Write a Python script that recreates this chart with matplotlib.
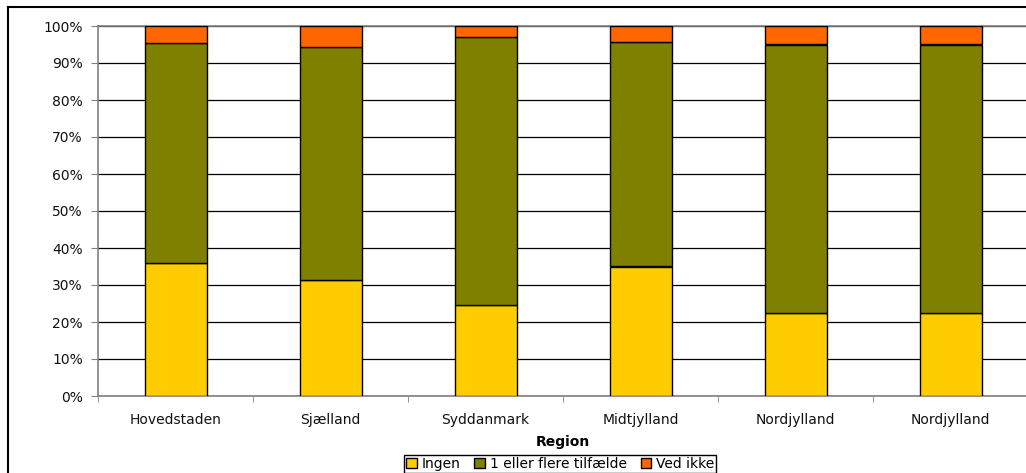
import numpy as np
import matplotlib
matplotlib.use("Agg")
import matplotlib.pyplot as plt
from matplotlib.lines import Line2D

regioner = ["Hovedstaden", "Sjælland", "Syddanmark", "Midtjylland", "Nordjylland", "Nordjylland"]
ingen = [36.0, 31.4, 24.6, 35.0, 22.4, 22.4]
flere = [59.4, 62.9, 72.4, 60.8, 72.6, 72.6]
ved_ikke = [4.6, 5.7, 3.0, 4.2, 5.0, 5.0]
serier = ["Ingen", "1 eller flere tilfælde", "Ved ikke"]
farver = ["#FFCC00", "#808000", "#FF6600"]

plt.rcParams["font.family"] = ["DejaVu Sans"]

fig = plt.figure(figsize=(10.26, 4.73), dpi=100)
ax = fig.add_axes([98 / 1026, 77 / 473, 930 / 1026, 370 / 473])

x = np.arange(len(regioner))
bund = np.zeros(len(regioner))
for navn, vaerdier, farve in zip(serier, [ingen, flere, ved_ikke], farver):
    ax.bar(x, vaerdier, width=0.4, bottom=bund, color=farve, edgecolor="black",
           linewidth=1, label=navn, zorder=3)
    bund += np.array(vaerdier)

ax.set_xlim(-0.5, len(regioner) - 0.5)
ax.set_ylim(0, 100)
ax.set_yticks(np.arange(0, 101, 10))
ax.set_yticklabels([f"{v}%" for v in range(0, 101, 10)], fontsize=10, color="#111111")
ax.set_xticks(x)
ax.set_xticklabels(regioner, fontsize=10, color="#111111")
ax.set_xticks(np.arange(-0.5, len(regioner), 1), minor=True)
ax.tick_params(axis="x", which="major", length=0, pad=12)
ax.tick_params(axis="x", which="minor", length=4, color="#808080", direction="out")
ax.tick_params(axis="y", length=5, color="#808080", pad=6)

ax.yaxis.grid(True, color="black", linewidth=0.9)
ax.set_axisbelow(True)
for side in ["left", "bottom", "top"]:
    ax.spines[side].set_color("#808080")
    ax.spines[side].set_linewidth(1.2)
ax.spines["right"].set_visible(False)

ax.set_xlabel("Region", fontsize=10, fontweight="bold", labelpad=6)

fig.legend(loc="upper center", bbox_to_anchor=(0.546, 0.038), ncol=3, fontsize=10,
           frameon=True, fancybox=False, edgecolor="black", framealpha=1,
           handlelength=0.75, handleheight=0.75, handletextpad=0.35,
           columnspacing=1.0, borderpad=0.15, borderaxespad=0)

# ramme om hele diagrammet
fig.add_artist(Line2D([8 / 1026, 8 / 1026], [0, 1 - 7 / 473], color="black", linewidth=1.5))
fig.add_artist(Line2D([8 / 1026, 1], [1 - 7 / 473, 1 - 7 / 473], color="black", linewidth=1.5))

fig.savefig("out.png", dpi=100)
